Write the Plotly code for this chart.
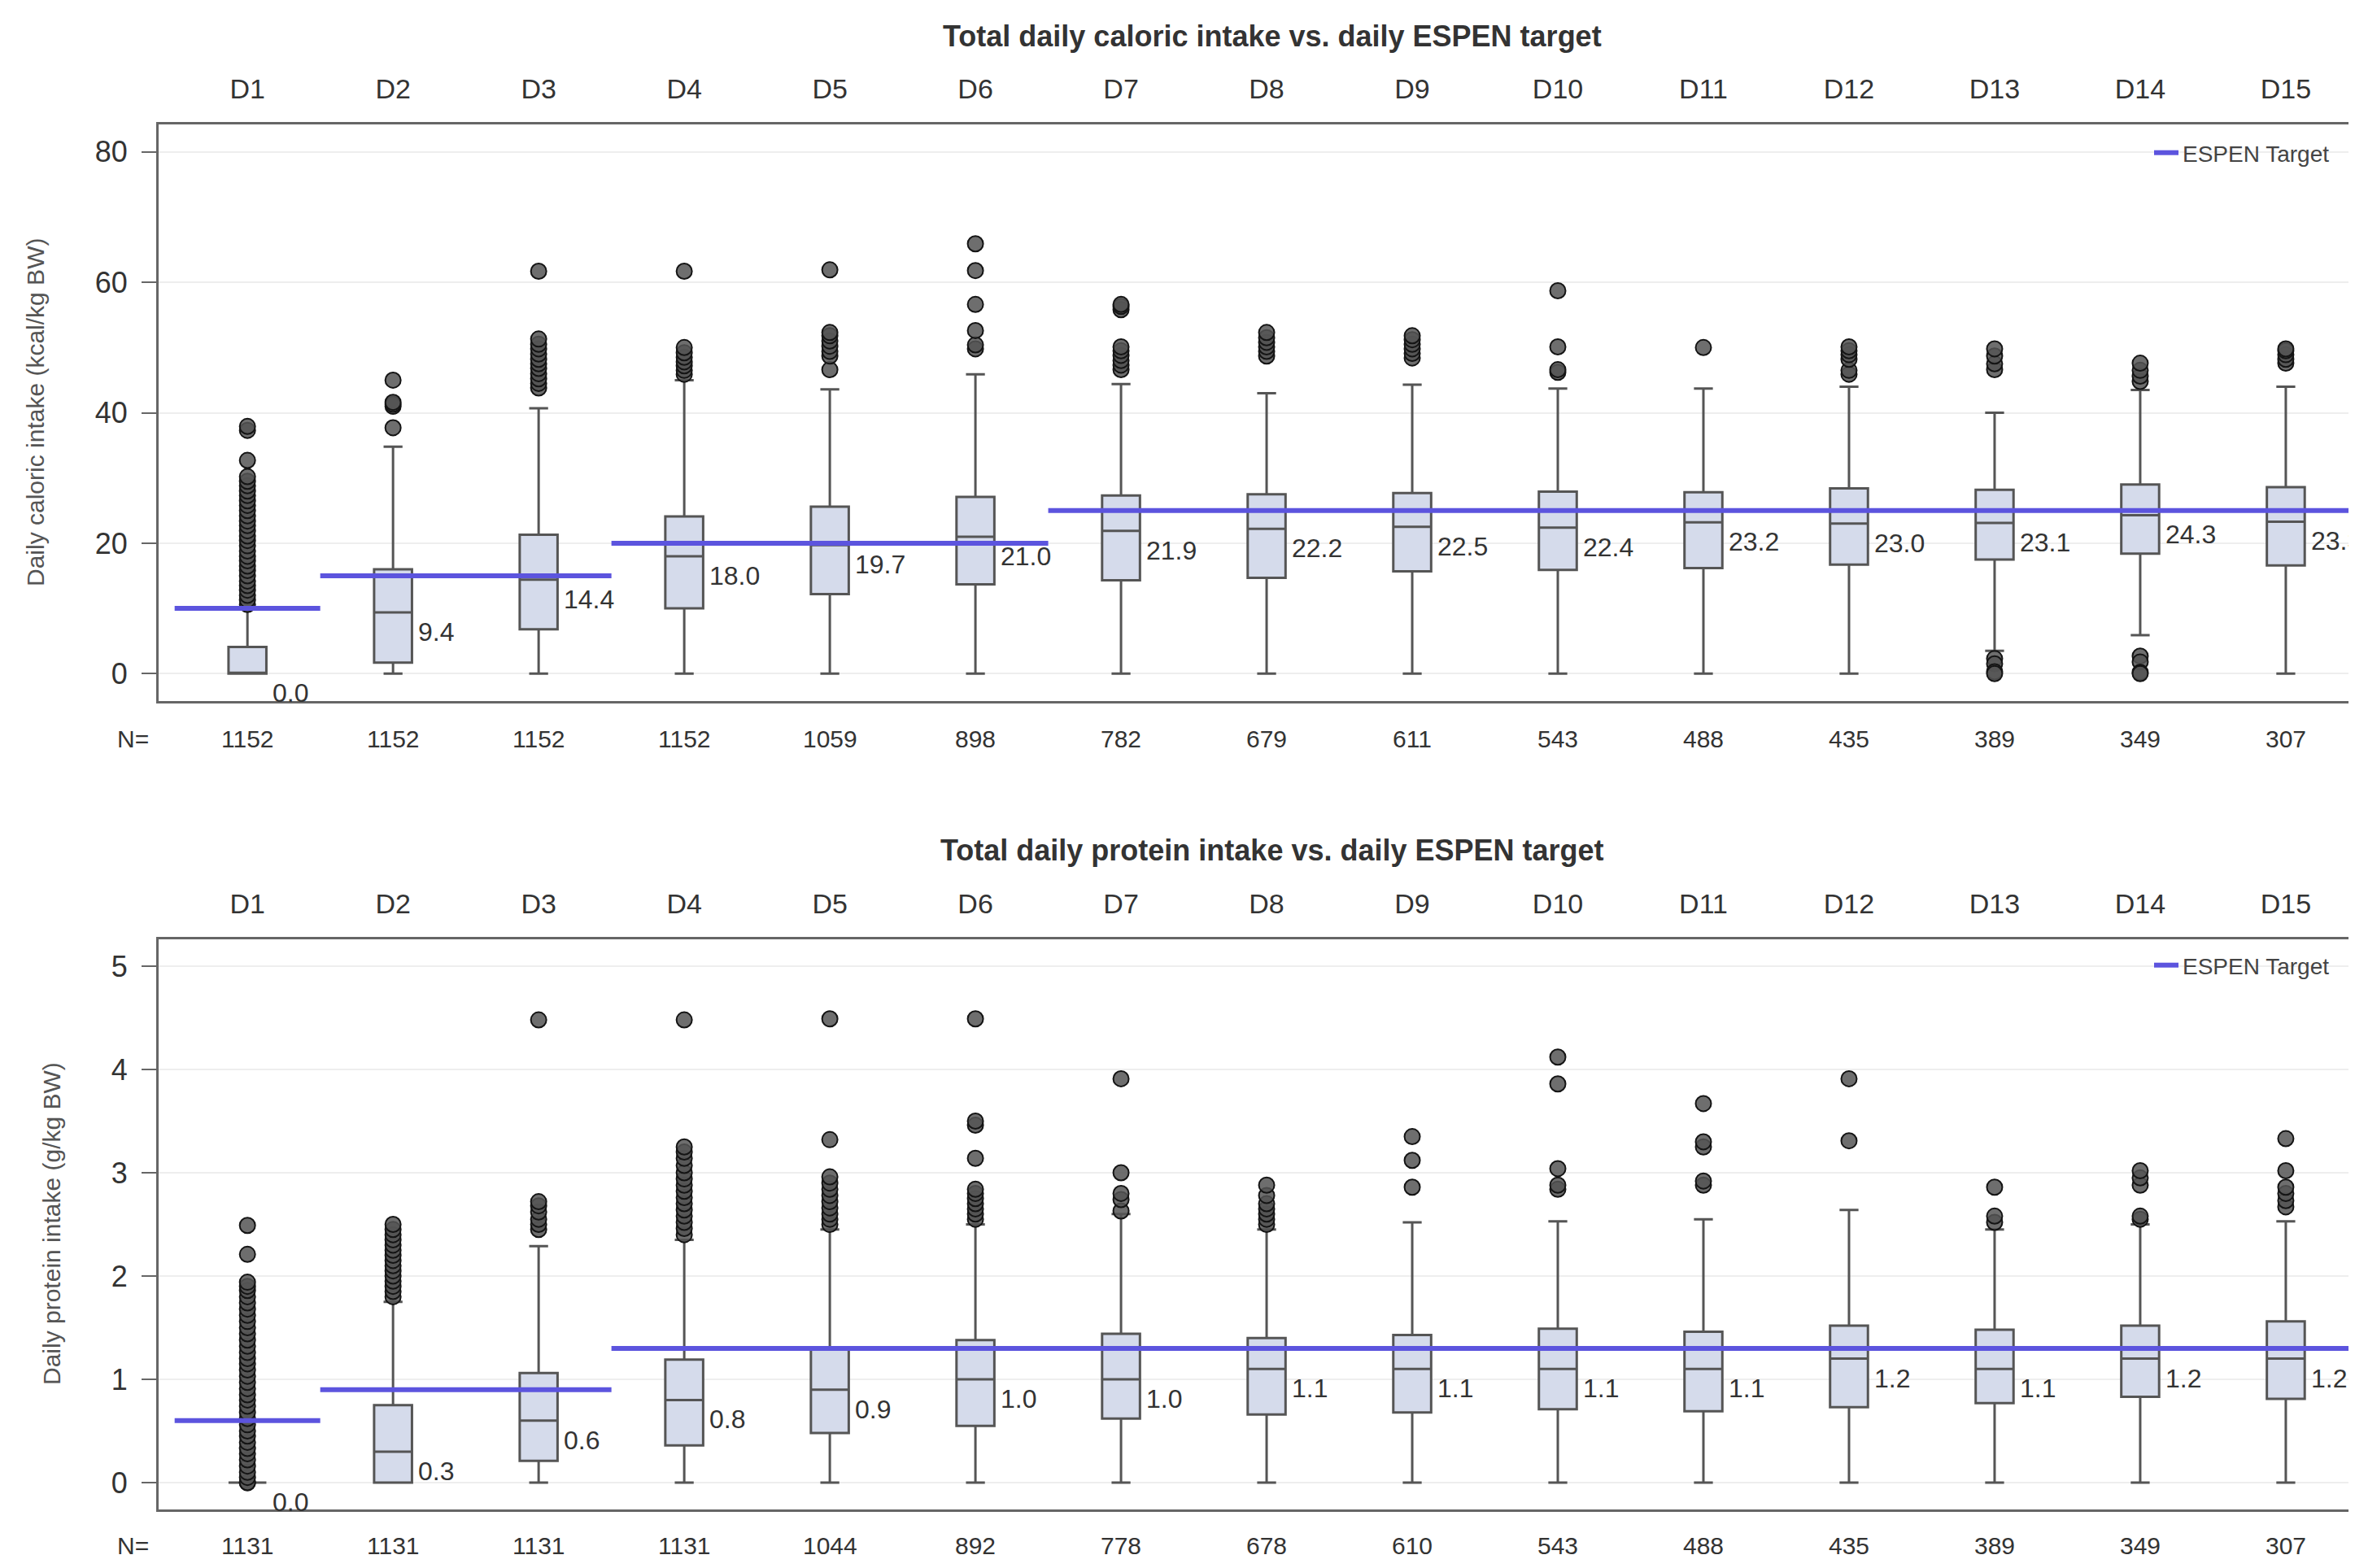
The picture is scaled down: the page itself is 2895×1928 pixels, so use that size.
import plotly.graph_objects as go

# ---------------- data ----------------
days = ["D1", "D2", "D3", "D4", "D5", "D6", "D7", "D8", "D9", "D10", "D11", "D12", "D13", "D14", "D15"]

# caloric intake (kcal/kg BW)
kcal_n = [1152, 1152, 1152, 1152, 1059, 898, 782, 679, 611, 543, 488, 435, 389, 349, 307]
kcal_q1 = [0.0, 1.7, 6.8, 10.0, 12.2, 13.7, 14.3, 14.7, 15.7, 15.9, 16.2, 16.7, 17.5, 18.4, 16.6]
kcal_median = [0.0, 9.4, 14.4, 18.0, 19.7, 21.0, 21.9, 22.2, 22.5, 22.4, 23.2, 23.0, 23.1, 24.3, 23.3]
kcal_q3 = [4.1, 16.0, 21.3, 24.1, 25.6, 27.1, 27.3, 27.5, 27.7, 27.9, 27.8, 28.4, 28.2, 29.0, 28.6]
kcal_low = [0.0, 0.0, 0.0, 0.0, 0.0, 0.0, 0.0, 0.0, 0.0, 0.0, 0.0, 0.0, 3.5, 5.9, 0.0]
kcal_high = [10.2, 34.8, 40.7, 45.0, 43.6, 45.9, 44.4, 43.0, 44.3, 43.7, 43.7, 44.0, 40.0, 43.5, 44.0]
kcal_outliers = [
    [10.6, 11.3, 12.0, 12.8, 13.5, 14.2, 15.0, 15.8, 16.5, 17.3, 18.0, 18.8, 19.6, 20.4, 21.1,
     21.9, 22.7, 23.4, 24.2, 25.0, 25.8, 26.5, 27.3, 28.0, 28.8, 29.5, 30.2, 32.7, 37.3, 37.9],
    [37.7, 41.0, 41.3, 41.6, 45.0],
    [43.8, 44.5, 45.2, 46.0, 46.8, 47.5, 48.2, 49.0, 49.8, 50.5, 51.3, 61.7],
    [45.9, 46.5, 47.2, 47.8, 48.5, 49.2, 50.0, 61.7],
    [46.6, 48.7, 49.4, 50.2, 51.0, 51.8, 52.3, 61.9],
    [49.8, 50.4, 52.6, 56.6, 61.8, 65.9],
    [46.6, 47.3, 48.0, 48.8, 49.5, 50.1, 55.8, 56.3, 56.6],
    [48.7, 49.4, 50.1, 50.8, 51.5, 52.3],
    [48.4, 49.1, 49.8, 50.5, 51.2, 51.8],
    [46.2, 46.6, 50.1, 58.7],
    [50.0],
    [45.9, 46.5, 48.2, 48.9, 49.5, 50.1],
    [46.6, 47.5, 48.7, 49.8, 2.3, 1.5, 0.3, 0.0],
    [44.8, 45.6, 46.5, 47.6, 2.7, 1.8, 0.2, 0.0],
    [47.6, 48.2, 48.9, 49.5, 49.8],
]
kcal_target = [10, 15, 15, 20, 20, 20, 25, 25, 25, 25, 25, 25, 25, 25, 25]

# protein intake (g/kg BW)
prot_n = [1131, 1131, 1131, 1131, 1044, 892, 778, 678, 610, 543, 488, 435, 389, 349, 307]
prot_q1 = [0.0, 0.0, 0.21, 0.36, 0.48, 0.55, 0.62, 0.66, 0.68, 0.71, 0.69, 0.73, 0.77, 0.83, 0.81]
prot_median = [0.0, 0.3, 0.6, 0.8, 0.9, 1.0, 1.0, 1.1, 1.1, 1.1, 1.1, 1.2, 1.1, 1.2, 1.2]
prot_q3 = [0.0, 0.75, 1.06, 1.19, 1.30, 1.38, 1.44, 1.40, 1.43, 1.49, 1.46, 1.52, 1.48, 1.52, 1.56]
prot_low = [0.0] * 15
prot_high = [0.0, 1.75, 2.29, 2.35, 2.45, 2.5, 2.6, 2.45, 2.52, 2.53, 2.55, 2.64, 2.45, 2.5, 2.53]
prot_outliers = [
    [0.0, 0.0, 0.05, 0.1, 0.16, 0.22, 0.28, 0.33, 0.39, 0.45, 0.5, 0.56, 0.62, 0.68, 0.74, 0.8,
     0.85, 0.91, 0.97, 1.03, 1.09, 1.15, 1.2, 1.26, 1.32, 1.38, 1.44, 1.5, 1.56, 1.62, 1.68,
     1.74, 1.8, 1.86, 1.9, 1.94, 2.21, 2.49],
    [1.8, 1.85, 1.9, 1.95, 2.0, 2.05, 2.1, 2.15, 2.2, 2.25, 2.3, 2.35, 2.4, 2.45, 2.5],
    [2.45, 2.5, 2.55, 2.62, 2.68, 2.72, 4.48],
    [2.4, 2.46, 2.52, 2.58, 2.64, 2.7, 2.76, 2.82, 2.88, 2.94, 3.0, 3.07, 3.14, 3.2, 3.25, 4.48],
    [2.5, 2.55, 2.6, 2.66, 2.72, 2.78, 2.84, 2.9, 2.96, 3.32, 4.49],
    [2.55, 2.6, 2.65, 2.7, 2.75, 2.8, 2.84, 3.14, 3.46, 3.5, 4.49],
    [2.63, 2.74, 2.8, 3.0, 3.91],
    [2.5, 2.55, 2.6, 2.65, 2.7, 2.78, 2.88],
    [2.86, 3.12, 3.35],
    [2.84, 2.88, 3.04, 3.86, 4.12],
    [2.88, 2.92, 3.25, 3.3, 3.67],
    [3.31, 3.91],
    [2.52, 2.58, 2.86],
    [2.55, 2.58, 2.88, 2.95, 3.02],
    [2.67, 2.73, 2.8, 2.86, 3.02, 3.33],
]
prot_target = [0.6, 0.9, 0.9, 1.3, 1.3, 1.3, 1.3, 1.3, 1.3, 1.3, 1.3, 1.3, 1.3, 1.3, 1.3]

titles = ["Total daily caloric intake vs. daily ESPEN target",
          "Total daily protein intake vs. daily ESPEN target"]
ytitles = ["Daily caloric intake (kcal/kg BW)", "Daily protein intake (g/kg BW)"]

# ---------------- style ----------------
W, H = 2895, 1928
FONT = "Liberation Sans, Arial, sans-serif"
TXT = "#333333"
BOX_FILL = "#d5dbeb"
BOX_LINE = "#555555"
BLUE = "rgb(92,84,222)"
BOXW = 0.26
idx = list(range(len(days)))

fig = go.Figure()


def add_panel(k, q1, med, q3, lo, hi, outl, target, legend_name):
    xa = "x" if k == 1 else "x2"
    ya = "y" if k == 1 else "y2"
    fig.add_trace(go.Box(
        x=idx, q1=q1, median=med, q3=q3, lowerfence=lo, upperfence=hi,
        width=BOXW, whiskerwidth=0.5, fillcolor=BOX_FILL,
        line=dict(color=BOX_LINE, width=3), boxpoints=False,
        showlegend=False, xaxis=xa, yaxis=ya, hoverinfo="skip"))
    ox, oy = [], []
    for i, vals in enumerate(outl):
        for v in vals:
            ox.append(i)
            oy.append(v)
    fig.add_trace(go.Scatter(
        x=ox, y=oy, mode="markers", showlegend=False, xaxis=xa, yaxis=ya,
        marker=dict(size=19, color="rgba(85,85,85,0.85)",
                    line=dict(color="rgba(20,20,20,1)", width=2)),
        hoverinfo="skip"))
    # target segments (group consecutive days with same target)
    segs = []
    start = 0
    for i in range(1, len(target) + 1):
        if i == len(target) or target[i] != target[start]:
            segs.append((start, i - 1, target[start]))
            start = i
    first = True
    for a, b, t in segs:
        fig.add_trace(go.Scatter(
            x=[a - 0.5, b + 0.5], y=[t, t], mode="lines",
            line=dict(color=BLUE, width=6), name="ESPEN Target",
            legend=legend_name, showlegend=first, xaxis=xa, yaxis=ya,
            hoverinfo="skip"))
        first = False
    # median labels
    for i, m in enumerate(med):
        fig.add_annotation(
            x=i + BOXW / 2 + 0.03, y=m, xref=xa, yref=ya, text=f"{m:.1f}",
            showarrow=False, xanchor="left", yanchor="top", yshift=-4,
            font=dict(family=FONT, size=32, color=TXT))


add_panel(1, kcal_q1, kcal_median, kcal_q3, kcal_low, kcal_high, kcal_outliers, kcal_target, "legend")
add_panel(2, prot_q1, prot_median, prot_q3, prot_low, prot_high, prot_outliers, prot_target, "legend2")

XD = [187 / W, 1.0]
XR = [-0.61, 14.52]
Y1D = [1 - 854 / H, 1 - 145 / H]
Y2D = [1 - 1848 / H, 1 - 1147 / H]

xcommon = dict(range=XR, domain=XD, side="top", tickvals=idx, ticktext=days,
               showgrid=False, zeroline=False, showline=True, mirror=True,
               linecolor="#666666", linewidth=3, ticks="", ticklabelstandoff=15,
               tickfont=dict(family=FONT, size=34, color=TXT), fixedrange=True)
ycommon = dict(showgrid=True, gridcolor="#eeeeee", gridwidth=2, zeroline=False,
               showline=True, linecolor="#666666", linewidth=3, ticks="outside",
               ticklen=18, tickwidth=2, tickcolor="#666666", ticklabelstandoff=10,
               tickfont=dict(family=FONT, size=36, color=TXT), fixedrange=True)

fig.update_layout(
    width=W, height=H, margin=dict(l=0, r=0, t=0, b=0),
    paper_bgcolor="white", plot_bgcolor="white",
    xaxis=dict(anchor="y", **xcommon),
    yaxis=dict(anchor="x", domain=Y1D, range=[-4.2, 84.2], tickvals=[0, 20, 40, 60, 80], **ycommon),
    xaxis2=dict(anchor="y2", **xcommon),
    yaxis2=dict(anchor="x2", domain=Y2D, range=[-0.26, 5.26], tickvals=[0, 1, 2, 3, 4, 5], **ycommon),
    legend=dict(x=2635 / W, y=1 - 180 / H, xanchor="left", yanchor="middle",
                bgcolor="rgba(0,0,0,0)", font=dict(family=FONT, size=28, color="#444444")),
    legend2=dict(x=2635 / W, y=1 - 1179 / H, xanchor="left", yanchor="middle",
                 bgcolor="rgba(0,0,0,0)", font=dict(family=FONT, size=28, color="#444444")),
)

# panel titles
for t, yc in zip(titles, [36, 1037]):
    fig.add_annotation(x=1556 / W, y=1 - yc / H, xref="paper", yref="paper",
                       text=f"<b>{t}</b>", showarrow=False, xanchor="center", yanchor="middle",
                       font=dict(family=FONT, size=36, color=TXT))
# y axis titles
for t, xc, yc in zip(ytitles, [36, 55], [499, 1497]):
    fig.add_annotation(x=xc / W, y=1 - yc / H, xref="paper", yref="paper", text=t,
                       textangle=-90, showarrow=False, xanchor="center", yanchor="middle",
                       font=dict(family=FONT, size=30, color="#555555"))
# N= rows
for ns, xa, yc in [(kcal_n, "x", 900), (prot_n, "x2", 1892)]:
    fig.add_annotation(x=155 / W, y=1 - yc / H, xref="paper", yref="paper", text="N=",
                       showarrow=False, xanchor="center", yanchor="middle",
                       font=dict(family=FONT, size=30, color=TXT))
    for i, n in enumerate(ns):
        fig.add_annotation(x=i, y=1 - yc / H, xref=xa, yref="paper", text=str(n),
                           showarrow=False, xanchor="center", yanchor="middle",
                           font=dict(family=FONT, size=30, color=TXT))

fig.write_html("out.html")
